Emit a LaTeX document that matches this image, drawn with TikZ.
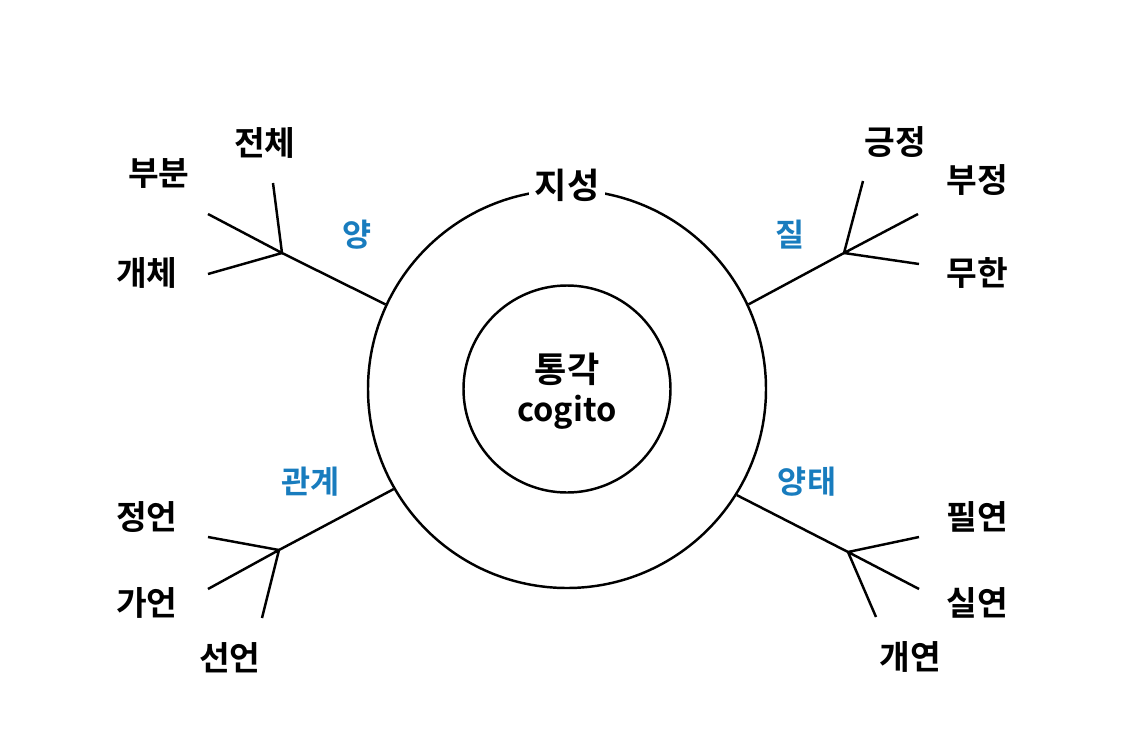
\documentclass[tikz,border=0pt]{standalone}
\usepackage{fontspec}
\setmainfont{Noto Sans CJK KR}[BoldFont={Noto Sans CJK KR Bold}]
\definecolor{catblue}{RGB}{24,124,190}
\begin{document}
\begin{tikzpicture}[line width=1.4pt,font=\bfseries\fontsize{19pt}{22pt}\selectfont,
  term/.style={inner sep=1pt},
  cat/.style={inner sep=1pt,text=catblue,font=\bfseries\fontsize{18pt}{21pt}\selectfont},
  ring/.style={draw,circle,inner sep=0pt}]
  \useasboundingbox (-11.34,-7.02) rectangle (11.16,7.78);
  \coordinate (O) at (0,0);

  % 원
  \node[ring,minimum size=7.96cm] (outer) at (O) {};
  \node[ring,minimum size=4.14cm] (inner) at (O) {};
  \node[fill=white,inner sep=3pt,font=\bfseries\fontsize{20pt}{23pt}\selectfont] (jiseong) at (0,4.08) {지성};
  \node[font=\bfseries\fontsize{20pt}{23pt}\selectfont] (tonggak) at (0,0.40) {통각};
  \node[font=\bfseries\fontsize{18.5pt}{22pt}\selectfont] (cogito) at (0,-0.46) {cogito};

  % 분기점
  \coordinate (J1) at (-5.70,2.72);
  \coordinate (J2) at (5.54,2.72);
  \coordinate (J3) at (-5.76,-3.22);
  \coordinate (J4) at (5.62,-3.26);

  % 가지 끝
  \coordinate (E11) at (-5.88,4.12);
  \coordinate (E12) at (-7.18,3.50);
  \coordinate (E13) at (-7.18,2.30);
  \coordinate (E21) at (5.92,4.16);
  \coordinate (E22) at (7.02,3.50);
  \coordinate (E23) at (7.04,2.50);
  \coordinate (E31) at (-7.18,-2.96);
  \coordinate (E32) at (-7.18,-4.00);
  \coordinate (E33) at (-6.10,-4.58);
  \coordinate (E41) at (7.04,-2.96);
  \coordinate (E42) at (7.04,-4.00);
  \coordinate (E43) at (6.18,-4.56);

  % 가지
  \draw (outer.155.6) -- (J1);
  \draw (J1) -- (E11) (J1) -- (E12) (J1) -- (E13);
  \draw (outer.25.4) -- (J2);
  \draw (J2) -- (E21) (J2) -- (E22) (J2) -- (E23);
  \draw (outer.210.4) -- (J3);
  \draw (J3) -- (E31) (J3) -- (E32) (J3) -- (E33);
  \draw (outer.328.7) -- (J4);
  \draw (J4) -- (E41) (J4) -- (E42) (J4) -- (E43);

  % 범주
  \node[cat] (yang) at (-4.20,3.08) {양};
  \node[cat] (jil) at (4.46,3.08) {질};
  \node[cat] (gwangye) at (-5.12,-1.86) {관계};
  \node[cat] (yangtae) at (4.80,-1.86) {양태};

  % 항목
  \node[term] (jeonche) at (-6.04,4.92) {전체};
  \node[term] (bubun) at (-8.16,4.32) {부분};
  \node[term] (gaeche) at (-8.40,2.32) {개체};
  \node[term] (geungjeong) at (6.56,4.94) {긍정};
  \node[term] (bujeong) at (8.20,4.18) {부정};
  \node[term] (muhan) at (8.20,2.32) {무한};
  \node[term] (jeongeon) at (-8.40,-2.56) {정언};
  \node[term] (gaeon) at (-8.40,-4.28) {가언};
  \node[term] (seoneon) at (-6.74,-5.38) {선언};
  \node[term] (pilyeon) at (8.20,-2.56) {필연};
  \node[term] (silyeon) at (8.20,-4.28) {실연};
  \node[term] (gaeyeon) at (6.86,-5.36) {개연};
\end{tikzpicture}
\end{document}
